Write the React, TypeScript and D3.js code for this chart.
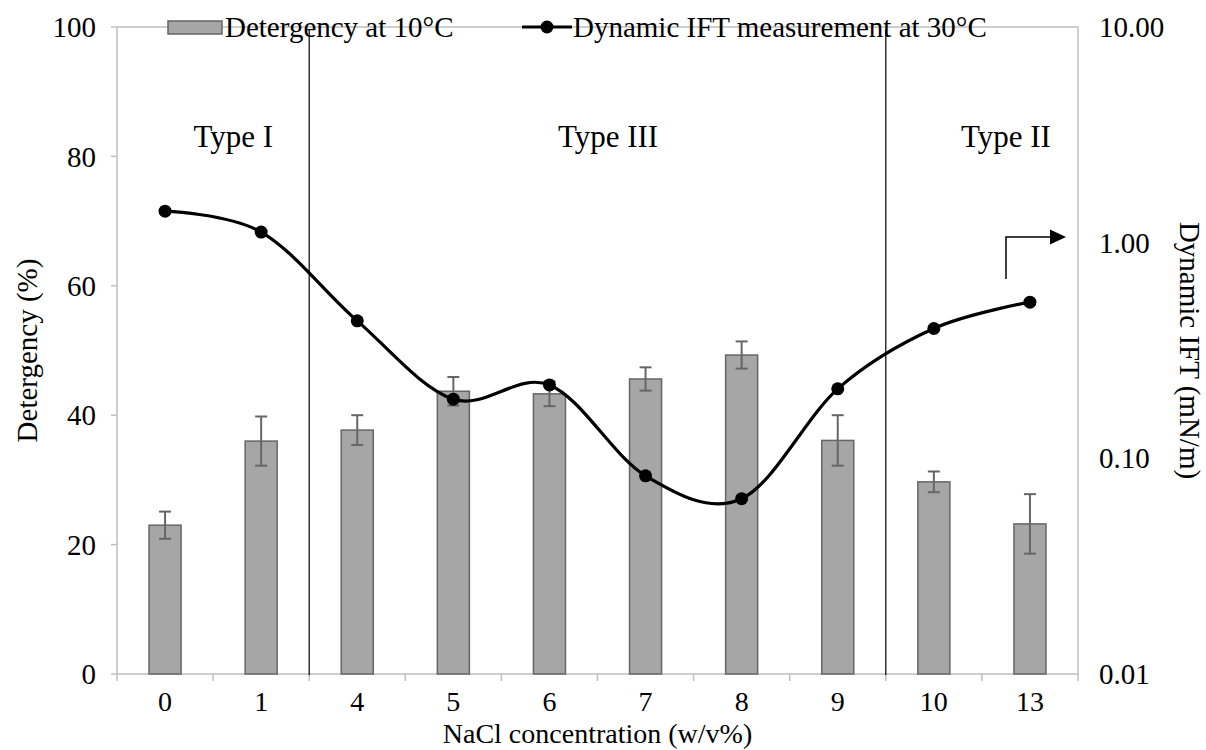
import React from 'react';
import * as d3 from 'd3';

const categories = ['0', '1', '4', '5', '6', '7', '8', '9', '10', '13'];
const detergency = [23.0, 36.0, 37.7, 43.7, 43.3, 45.6, 49.3, 36.1, 29.7, 23.2];
const detergencyErr = [2.1, 3.8, 2.3, 2.2, 1.9, 1.8, 2.1, 3.9, 1.6, 4.6];
const ift = [1.40, 1.12, 0.434, 0.188, 0.219, 0.083, 0.065, 0.21, 0.40, 0.53];
const leftTicks = [0, 20, 40, 60, 80, 100];
const rightTicks = [0.01, 0.1, 1, 10];
const phaseLabels = ['Type I', 'Type III', 'Type II'];
const phaseLabelPos = [0.71, 4.61, 8.75];
const separatorsAfter = [1, 7];

const W = 1206;
const H = 750;
const M = { left: 117, right: 1078, top: 27, bottom: 674 };
const FONT = '"Liberation Serif", "Times New Roman", serif';
const AXIS = '#bfbfbf';
const FS = 29;

export default function App() {
  const x = d3.scaleBand<string>().domain(categories).range([M.left, M.right]).padding(0);
  const bw = x.bandwidth();
  const idx = d3.scaleLinear().domain([0, 1]).range([M.left + bw / 2, M.left + bw * 1.5]);
  const yL = d3.scaleLinear().domain([0, 100]).range([M.bottom, M.top]);
  const yR = d3.scaleLog().domain([0.01, 10]).range([M.bottom, M.top]);
  const barW = bw / 3;
  const cx = (c: string) => (x(c) as number) + bw / 2;

  const line = d3
    .line<number>()
    .x((_, i) => cx(categories[i]))
    .y((d) => yR(d))
    .curve(d3.curveCatmullRom.alpha(0));

  return (
    <svg width={W} height={H} style={{ position: 'absolute', left: 0, top: 0, background: '#fff' }}>
      {/* plot border */}
      <rect x={M.left} y={M.top} width={M.right - M.left} height={M.bottom - M.top} fill="none" stroke={AXIS} strokeWidth={1.5} />

      {/* left ticks */}
      {leftTicks.map((t) => (
        <g key={'l' + t}>
          <line x1={M.left - 6} x2={M.left} y1={yL(t)} y2={yL(t)} stroke={AXIS} strokeWidth={1.5} />
          <text x={96} y={yL(t)} dy="0.35em" textAnchor="end" fontFamily={FONT} fontSize={FS} fill="#000">
            {t}
          </text>
        </g>
      ))}

      {/* right tick labels */}
      {rightTicks.map((t) => (
        <text key={'r' + t} x={1099} y={yR(t)} dy="0.35em" textAnchor="start" fontFamily={FONT} fontSize={FS} fill="#000">
          {t.toFixed(2)}
        </text>
      ))}

      {/* bottom ticks */}
      {categories.map((c) => (
        <line key={'bt' + c} x1={x(c) as number} x2={x(c) as number} y1={M.bottom} y2={M.bottom + 7} stroke={AXIS} strokeWidth={1.5} />
      ))}
      <line x1={M.right} x2={M.right} y1={M.bottom} y2={M.bottom + 7} stroke={AXIS} strokeWidth={1.5} />
      {categories.map((c) => (
        <text key={'bl' + c} x={cx(c)} y={701} dy="0.35em" textAnchor="middle" fontFamily={FONT} fontSize={28} fill="#000">
          {c}
        </text>
      ))}

      {/* bars */}
      {categories.map((c, i) => (
        <rect
          key={'bar' + c}
          x={cx(c) - barW / 2}
          y={yL(detergency[i])}
          width={barW}
          height={yL(0) - yL(detergency[i])}
          fill="#a6a6a6"
          stroke="#666666"
          strokeWidth={1.5}
        />
      ))}

      {/* error bars */}
      {categories.map((c, i) => {
        const top = yL(detergency[i] + detergencyErr[i]);
        const bot = yL(detergency[i] - detergencyErr[i]);
        const xc = cx(c);
        return (
          <g key={'err' + c} stroke="#666666" strokeWidth={2}>
            <line x1={xc} x2={xc} y1={top} y2={bot} />
            <line x1={xc - 6} x2={xc + 6} y1={top} y2={top} />
            <line x1={xc - 6} x2={xc + 6} y1={bot} y2={bot} />
          </g>
        );
      })}

      {/* phase separators */}
      {separatorsAfter.map((s) => {
        const xs = (x(categories[s]) as number) + bw;
        return <line key={'sep' + s} x1={xs} x2={xs} y1={M.top + 2} y2={M.bottom + 1} stroke="#000" strokeWidth={1.2} />;
      })}

      {/* IFT line */}
      <path d={line(ift) || ''} fill="none" stroke="#000" strokeWidth={3.2} />
      {ift.map((v, i) => (
        <circle key={'pt' + i} cx={cx(categories[i])} cy={yR(v)} r={6.5} fill="#000" />
      ))}

      {/* phase labels */}
      {phaseLabels.map((p, i) => (
        <text key={p} x={idx(phaseLabelPos[i])} y={136} dy="0.35em" textAnchor="middle" fontFamily={FONT} fontSize={31} fill="#000">
          {p}
        </text>
      ))}

      {/* arrow */}
      <path d="M1006,279 L1006,237 L1052,237" fill="none" stroke="#000" strokeWidth={1.5} />
      <path d="M1050,229.5 L1066,237 L1050,244.5 Z" fill="#000" />

      {/* legend */}
      <rect x={168} y={21} width={54} height={13} fill="#a6a6a6" stroke="#666666" strokeWidth={1.5} />
      <text x={225} y={27} dy="0.35em" fontFamily={FONT} fontSize={FS} fill="#000">
        Detergency at 10°C
      </text>
      <line x1={522} x2={572} y1={27} y2={27} stroke="#000" strokeWidth={3.2} />
      <circle cx={547} cy={27} r={6.5} fill="#000" />
      <text x={573} y={27} dy="0.35em" fontFamily={FONT} fontSize={FS} fill="#000">
        Dynamic IFT measurement at 30°C
      </text>

      {/* axis titles */}
      <text transform={`translate(27,${(M.top + M.bottom) / 2}) rotate(-90)`} dy="0.35em" textAnchor="middle" fontFamily={FONT} fontSize={FS} fill="#000">
        Detergency (%)
      </text>
      <text transform={`translate(1190,${(M.top + M.bottom) / 2}) rotate(90)`} dy="0.35em" textAnchor="middle" fontFamily={FONT} fontSize={FS} fill="#000">
        Dynamic IFT (mN/m)
      </text>
      <text x={(M.left + M.right) / 2} y={733} dy="0.35em" textAnchor="middle" fontFamily={FONT} fontSize={28} fill="#000">
        NaCl concentration (w/v%)
      </text>
    </svg>
  );
}
